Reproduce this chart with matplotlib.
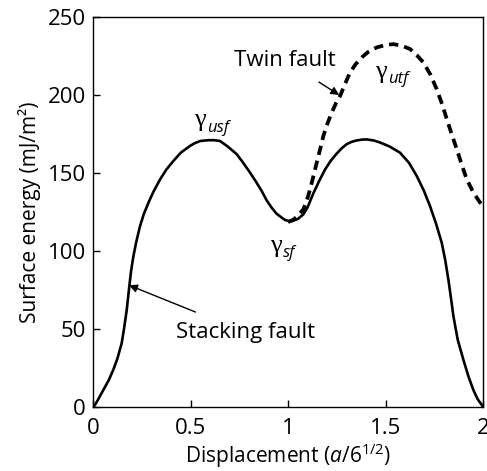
import matplotlib
matplotlib.use("Agg")
import matplotlib.pyplot as plt

# values
stacking_x = [0.00, 0.01, 0.025, 0.053, 0.08, 0.104, 0.125, 0.147, 0.16, 0.173, 0.186,
              0.195, 0.207, 0.222, 0.241, 0.26, 0.284, 0.31, 0.344, 0.375, 0.412, 0.45,
              0.497, 0.52, 0.55, 0.591, 0.62, 0.651, 0.69, 0.737, 0.77, 0.805, 0.835,
              0.865, 0.89, 0.916, 0.94, 0.968, 0.985, 1.00, 1.019, 1.05, 1.078, 1.10,
              1.13, 1.16, 1.19, 1.22, 1.25, 1.275, 1.30, 1.325, 1.35, 1.38, 1.404, 1.44,
              1.472, 1.52, 1.574, 1.62, 1.66, 1.695, 1.728, 1.76, 1.788, 1.806, 1.822,
              1.835, 1.848, 1.87, 1.899, 1.925, 1.95, 1.972, 1.993, 2.00]
stacking_y = [0, 1.3, 4.5, 10.9, 17, 23.8, 31, 40.9, 51, 62.3, 77.3,
              87, 96.6, 106, 115.9, 123.5, 130.9, 138, 145.9, 152, 157.7, 163,
              167.3, 169, 170.5, 171, 171, 170.5, 167, 162, 156.5, 150.2, 144.5,
              138.4, 132.5, 127.7, 124, 121.3, 119.8, 119.3, 119.1, 120.5, 123.4, 128,
              137, 145, 152.3, 158, 162.5, 165.8, 168.4, 169.9, 170.8, 171.4, 171.5, 170.8,
              169.5, 167, 163, 156.5, 148, 139, 128.7, 117, 105.2, 94, 81.6,
              70, 58, 43, 30.2, 19.5, 10.9, 5, 1.3, 0]

twin_x = [1.00, 1.027, 1.05, 1.078, 1.095, 1.113, 1.13, 1.147, 1.165, 1.181, 1.20,
          1.224, 1.245, 1.267, 1.29, 1.318, 1.345, 1.378, 1.41, 1.455, 1.50, 1.54,
          1.585, 1.626, 1.66, 1.694, 1.73, 1.762, 1.79, 1.814, 1.84, 1.865, 1.89,
          1.916, 1.95, 1.985, 2.00]
twin_y = [118.5, 120, 122.5, 126.6, 132, 139.5, 148, 156.6, 165.5, 173.7, 181,
          188.7, 194.5, 199.4, 206.5, 214.4, 219.5, 224.1, 227.5, 230.5, 232, 232.6,
          231.5, 229.4, 225.5, 220.8, 213, 203.7, 194, 184.4, 174.5, 165.2, 155.5,
          145.9, 137.5, 130.9, 128]

xticks = [0, 0.5, 1, 1.5, 2]
xtick_labels = ["0", "0.5", "1", "1.5", "2"]
yticks = [0, 50, 100, 150, 200, 250]

# gamma labels: (gamma x, gamma y, subscript, subscript x, subscript y)
gamma_labels = [(0.549, 184, "usf", 0.585, 179),
                (0.938, 103, "sf", 0.974, 99),
                (1.477, 215, "utf", 1.513, 210)]

plt.rcParams['font.family'] = ['Open Sans', 'DejaVu Sans']
plt.rcParams['mathtext.fontset'] = 'custom'
plt.rcParams['mathtext.rm'] = 'Open Sans'
plt.rcParams['mathtext.it'] = 'Open Sans:italic'

fig = plt.figure(figsize=(4.87, 4.71), dpi=100)
ax = fig.add_axes([0.191, 0.136, 0.801, 0.828])

ax.plot(stacking_x, stacking_y, color='black', lw=1.9, solid_joinstyle='round')
ax.plot(twin_x, twin_y, color='black', lw=2.7, dashes=(2.5, 1.6))

ax.set_xlim(0, 2)
ax.set_ylim(0, 250)
ax.set_xticks(xticks)
ax.set_xticklabels(xtick_labels)
ax.set_yticks(yticks)
ax.tick_params(direction='in', length=5, width=1, labelsize=16)
ax.tick_params(axis='x', pad=8)
ax.tick_params(axis='y', pad=5)
for s in ax.spines.values():
    s.set_linewidth(1)

ax.set_xlabel(r'Displacement ($a$/6$^{1/2}$)', fontsize=15, labelpad=2)
ax.set_ylabel('Surface energy (mJ/m²)', fontsize=15, labelpad=5)

for gx, gy, sub, sx, sy in gamma_labels:
    ax.text(gx, gy, 'γ', family='Liberation Serif', fontsize=19, ha='center', va='center')
    ax.text(sx, sy, sub, fontsize=12, style='italic', ha='left', va='center')

ax.annotate('Twin fault', xy=(1.262, 200), xytext=(0.985, 222), fontsize=16,
            ha='center', va='center',
            arrowprops=dict(arrowstyle='-|>', color='black', lw=1, shrinkA=11, shrinkB=0,
                            mutation_scale=12))
ax.annotate('Stacking fault', xy=(0.185, 78), xytext=(0.78, 48), fontsize=16,
            ha='center', va='center',
            arrowprops=dict(arrowstyle='-|>', color='black', lw=1, shrinkA=13, shrinkB=0,
                            mutation_scale=12))

fig.savefig('out.png', dpi=100)
